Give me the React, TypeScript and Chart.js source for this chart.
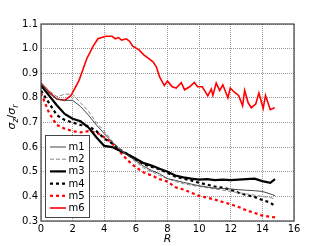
import React, { useEffect, useRef } from "react";
import { Chart, registerables } from "chart.js";

Chart.register(...registerables);

const R_GRID = [0, 0.5, 1, 1.5, 2, 2.5, 3, 3.5, 4, 4.5, 5, 5.5, 6, 6.5, 7, 7.5, 8, 8.5, 9, 9.5, 10, 10.5, 11, 11.5, 12, 12.5, 13, 13.5, 14, 14.5, 14.8];
const M1 = [0.86, 0.82, 0.795, 0.79, 0.79, 0.765, 0.73, 0.69, 0.655, 0.62, 0.59, 0.565, 0.545, 0.522, 0.505, 0.492, 0.472, 0.465, 0.457, 0.45, 0.443, 0.438, 0.433, 0.432, 0.43, 0.427, 0.425, 0.423, 0.42, 0.41, 0.403];
const M2 = [0.86, 0.83, 0.805, 0.815, 0.815, 0.78, 0.745, 0.7, 0.665, 0.625, 0.59, 0.565, 0.54, 0.515, 0.5, 0.485, 0.472, 0.46, 0.452, 0.445, 0.44, 0.435, 0.43, 0.425, 0.42, 0.415, 0.41, 0.405, 0.4, 0.395, 0.39];
const M3 = [0.85, 0.81, 0.77, 0.735, 0.715, 0.705, 0.68, 0.64, 0.605, 0.6, 0.585, 0.57, 0.553, 0.535, 0.525, 0.512, 0.5, 0.485, 0.477, 0.472, 0.468, 0.47, 0.466, 0.468, 0.466, 0.468, 0.47, 0.472, 0.462, 0.455, 0.47];
const M4 = [0.83, 0.78, 0.73, 0.71, 0.7, 0.69, 0.685, 0.665, 0.635, 0.615, 0.59, 0.57, 0.548, 0.53, 0.52, 0.51, 0.495, 0.48, 0.472, 0.465, 0.455, 0.448, 0.44, 0.435, 0.427, 0.415, 0.405, 0.398, 0.385, 0.375, 0.36];
const M5 = [0.82, 0.74, 0.69, 0.675, 0.665, 0.66, 0.665, 0.66, 0.64, 0.615, 0.58, 0.545, 0.518, 0.497, 0.485, 0.47, 0.46, 0.437, 0.428, 0.415, 0.402, 0.395, 0.387, 0.377, 0.368, 0.357, 0.343, 0.333, 0.322, 0.317, 0.315];

const R_M6 = [0, 0.5, 1.0, 1.5, 1.9, 2.4, 2.9, 3.3, 3.6, 4.1, 4.5, 4.7, 4.9, 5.1, 5.4, 5.6, 5.8, 6.2, 6.5, 6.8, 7.1, 7.3, 7.5, 7.8, 8.0, 8.3, 8.55, 8.87, 9.08, 9.4, 9.7, 9.9, 10.2, 10.55, 10.77, 10.87, 11.08, 11.3, 11.5, 11.82, 11.97, 12.25, 12.5, 12.75, 12.88, 13.1, 13.3, 13.58, 13.78, 14.05, 14.2, 14.5, 14.78];
const M6 = [0.86, 0.825, 0.795, 0.79, 0.81, 0.87, 0.96, 1.01, 1.04, 1.05, 1.05, 1.04, 1.045, 1.035, 1.04, 1.03, 1.01, 0.995, 0.975, 0.96, 0.945, 0.925, 0.885, 0.85, 0.868, 0.845, 0.84, 0.862, 0.833, 0.845, 0.863, 0.845, 0.845, 0.808, 0.836, 0.81, 0.86, 0.83, 0.853, 0.8, 0.84, 0.822, 0.81, 0.768, 0.83, 0.78, 0.76, 0.775, 0.82, 0.757, 0.81, 0.752, 0.76];

const X_TICKS = [0, 2, 4, 6, 8, 10, 12, 14, 16];
const Y_TICKS = [0.3, 0.4, 0.5, 0.6, 0.7, 0.8, 0.9, 1.0, 1.1];
const LABELS = ["m1", "m2", "m3", "m4", "m5", "m6"];

const FONT = "'DejaVu Sans', sans-serif";

const pts = (xs: number[], ys: number[]) => xs.map((x, i) => ({ x, y: ys[i] }));

export default function App() {
  const ref = useRef<HTMLCanvasElement>(null);
  useEffect(() => {
    if (!ref.current) return;
    const styles = [
      { color: "#444444", width: 1, dash: [] as number[] },
      { color: "#888888", width: 1, dash: [4, 2] },
      { color: "#000000", width: 2.2, dash: [] as number[] },
      { color: "#000000", width: 2.2, dash: [3, 3] },
      { color: "#ff0000", width: 2.2, dash: [3, 3] },
      { color: "#ff0000", width: 1.6, dash: [] as number[] },
    ];
    const series = [
      pts(R_GRID, M1),
      pts(R_GRID, M2),
      pts(R_GRID, M3),
      pts(R_GRID, M4),
      pts(R_GRID, M5),
      pts(R_M6, M6),
    ];
    const datasets = series.map((d, i) => ({
      label: LABELS[i],
      data: d,
      borderColor: styles[i].color,
      borderWidth: styles[i].width,
      borderDash: styles[i].dash,
      pointRadius: 0,
      fill: false,
      tension: 0,
    }));

    const overlay = {
      id: "overlay",
      afterDatasetsDraw(chart: any) {
        const { ctx, chartArea: a } = chart;
        ctx.save();
        // frame
        ctx.strokeStyle = "#444444";
        ctx.lineWidth = 1.2;
        ctx.setLineDash([]);
        ctx.strokeRect(a.left, a.top, a.right - a.left, a.bottom - a.top);
        // legend
        const bx = 45, by = 135, bw = 44, bh = 82;
        ctx.fillStyle = "#ffffff";
        ctx.fillRect(bx, by, bw, bh);
        ctx.strokeStyle = "#444444";
        ctx.lineWidth = 1;
        ctx.strokeRect(bx + 0.5, by + 0.5, bw, bh);
        ctx.font = `10px ${FONT}`;
        ctx.textBaseline = "middle";
        ctx.textAlign = "left";
        chart.data.datasets.forEach((ds: any, i: number) => {
          const y = 147 + i * 12.2;
          ctx.beginPath();
          ctx.strokeStyle = ds.borderColor;
          ctx.lineWidth = ds.borderWidth;
          ctx.setLineDash(ds.borderDash || []);
          ctx.moveTo(50, y);
          ctx.lineTo(66, y);
          ctx.stroke();
          ctx.setLineDash([]);
          ctx.fillStyle = "#000000";
          ctx.fillText(ds.label, 68.5, y + 0.5);
        });
        // axis titles
        ctx.fillStyle = "#000000";
        ctx.font = `italic 11px ${FONT}`;
        ctx.textAlign = "center";
        ctx.textBaseline = "alphabetic";
        ctx.fillText("R", (a.left + a.right) / 2, 242);
        // y title rotated
        ctx.translate(15, 117);
        ctx.rotate(-Math.PI / 2);
        const parts = [
          { t: "σ", s: 11, dy: 0 },
          { t: "z", s: 8, dy: 2.5 },
          { t: "/", s: 11, dy: 0 },
          { t: "σ", s: 11, dy: 0 },
          { t: "r", s: 8, dy: 2.5 },
        ];
        let total = 0;
        parts.forEach((p) => {
          ctx.font = `italic ${p.s}px ${FONT}`;
          total += ctx.measureText(p.t).width;
        });
        let x = -total / 2;
        ctx.textAlign = "left";
        parts.forEach((p) => {
          ctx.font = `${p.t === "/" ? "" : "italic "}${p.s}px ${FONT}`;
          ctx.fillText(p.t, x, p.dy);
          x += ctx.measureText(p.t).width;
        });
        ctx.restore();
      },
    };

    const chart = new Chart(ref.current, {
      type: "line",
      data: { datasets },
      plugins: [overlay],
      options: {
        animation: false,
        responsive: false,
        maintainAspectRatio: false,
        layout: { padding: { top: 24, right: 33, left: 0, bottom: 0 } },
        plugins: { legend: { display: false }, tooltip: { enabled: false } },
        scales: {
          x: {
            type: "linear",
            min: 0,
            max: 16,
            afterBuildTicks: (s: any) => {
              s.ticks = X_TICKS.map((v) => ({ value: v }));
            },
            afterFit: (s: any) => {
              s.height = 25;
            },
            ticks: {
              color: "#000000",
              font: { family: FONT, size: 10 },
              padding: 2,
              maxRotation: 0,
              callback: (v: any) => String(v),
            },
            grid: { color: "#999999", lineWidth: 1, drawTicks: false },
            border: { display: false, dash: [1, 1] },
          },
          y: {
            type: "linear",
            min: 0.3,
            max: 1.1,
            afterBuildTicks: (s: any) => {
              s.ticks = Y_TICKS.map((v) => ({ value: v }));
            },
            afterFit: (s: any) => {
              s.width = 41;
            },
            ticks: {
              color: "#000000",
              font: { family: FONT, size: 10 },
              padding: 3,
              callback: (v: any) => Number(v).toFixed(1),
            },
            grid: { color: "#999999", lineWidth: 1, drawTicks: false },
            border: { display: false, dash: [1, 1] },
          },
        },
      },
    } as any);
    return () => chart.destroy();
  }, []);
  return (
    <div style={{ position: "absolute", left: 0, top: 0, width: 327, height: 246, background: "#ffffff" }}>
      <canvas ref={ref} width={327} height={246} style={{ width: 327, height: 246 }} />
    </div>
  );
}
